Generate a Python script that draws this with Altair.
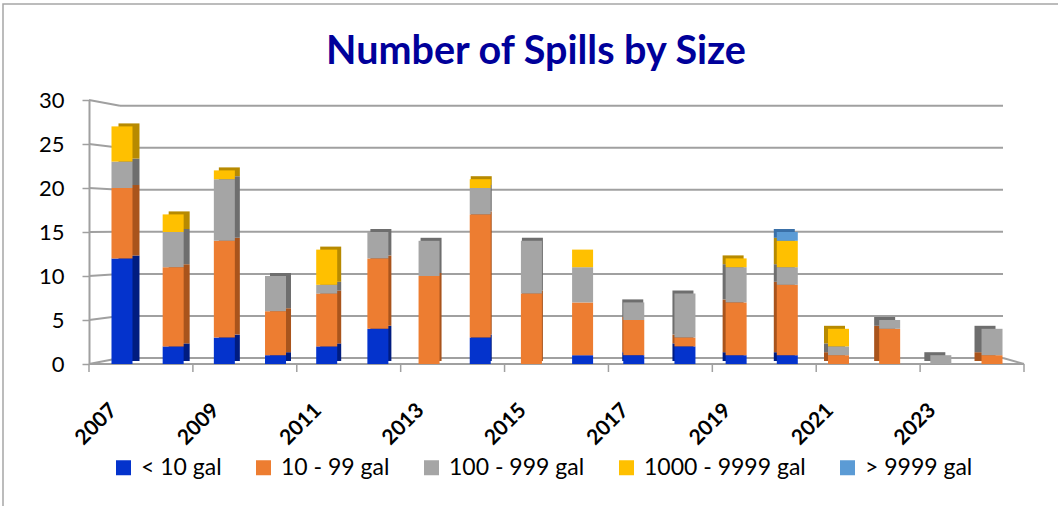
import altair as alt
import pandas as pd

# Spill counts per year, split by spill volume class
years = list(range(2007, 2025))
sizes = ["< 10 gal", "10 - 99 gal", "100 - 999 gal", "1000 - 9999 gal", "> 9999 gal"]
under_10 = [12, 2, 3, 1, 2, 4, 0, 3, 0, 1, 1, 2, 1, 1, 0, 0, 0, 0]
from_10_99 = [8, 9, 11, 5, 6, 8, 10, 14, 8, 6, 4, 1, 6, 8, 1, 4, 0, 1]
from_100_999 = [3, 4, 7, 4, 1, 3, 4, 3, 6, 4, 2, 5, 4, 2, 1, 1, 1, 3]
from_1000_9999 = [4, 2, 1, 0, 4, 0, 0, 1, 0, 2, 0, 0, 1, 3, 2, 0, 0, 0]
over_9999 = [0, 0, 0, 0, 0, 0, 0, 0, 0, 0, 0, 0, 0, 1, 0, 0, 0, 0]
y_ticks = [0, 5, 10, 15, 20, 25, 30]
title_text = "Number of Spills by Size"

front_colors = ["#0433CC", "#ED7D31", "#A5A5A5", "#FFC000", "#5B9BD5"]
side_colors = ["#001C80", "#A9541C", "#6E6E6E", "#B78A00", "#3A70A8"]

series = [under_10, from_10_99, from_100_999, from_1000_9999, over_9999]
rows = []
for rank, (name, vals) in enumerate(zip(sizes, series)):
    for yr, v in zip(years, vals):
        rows.append({"year": yr, "size": name, "count": v, "rank": rank})
long = pd.DataFrame(rows)

grid_df = pd.DataFrame({"v": y_ticks})
tick_df = pd.DataFrame({"pos": list(range(0, len(years) + 1, 2))})
one = pd.DataFrame({"label": [title_text]})

W, H = 935, 264
FONT = "Lato"
Y_SCALE = alt.Scale(domain=[0, 30], nice=False, zero=True)
BAR_X = alt.Scale(domain=years, range=[7.4, 928.6], paddingInner=0, paddingOuter=0)
BAR_W = 21
Y_AXIS = alt.Axis(
    values=y_ticks, grid=False, title=None, tickSize=7, tickColor="#A0A0A0",
    tickWidth=1.5, domainColor="#A0A0A0", domainWidth=2, labelPadding=18,
    labelFontSize=22, labelFont=FONT, labelColor="#000000",
)


def yq(field):
    return alt.Y(field, scale=Y_SCALE, axis=Y_AXIS)


# outer frame
frame = alt.Chart(one).mark_rect(fillOpacity=0, stroke="#A6A6A6", strokeWidth=1.5).encode(
    x=alt.value(-86), x2=alt.value(1000), y=alt.value(-96), y2=alt.value(520)
)

# chart title
title = alt.Chart(one).mark_text(
    font=FONT, fontSize=39.5, fontWeight="bold", color="#00009A", align="center",
    baseline="alphabetic",
).encode(text="label:N", x=alt.value(447), y=alt.value(-36))

# back wall gridlines (slightly compressed) and their left-edge diagonals
wall = "0.682 + 0.9557 * datum.v"
grid = alt.Chart(grid_df).transform_calculate(back=wall).mark_rule(
    color="#A0A0A0", strokeWidth=2
).encode(y=yq("back:Q"), x=alt.value(31), x2=alt.value(914))
diag = alt.Chart(grid_df).transform_calculate(back=wall).mark_rule(
    color="#A0A0A0", strokeWidth=2
).encode(y=yq("v:Q"), y2="back:Q", x=alt.value(0), x2=alt.value(31))
floor_right = alt.Chart(grid_df).transform_filter("datum.v == 0").transform_calculate(
    back=wall
).mark_rule(color="#A0A0A0", strokeWidth=2).encode(
    y=yq("back:Q"), y2="v:Q", x=alt.value(914), x2=alt.value(W)
)
floor_front = alt.Chart(grid_df).transform_filter("datum.v == 0").mark_rule(
    color="#A0A0A0", strokeWidth=2
).encode(y=yq("v:Q"), x=alt.value(0), x2=alt.value(W))
ticks = alt.Chart(tick_df).mark_rule(color="#A0A0A0", strokeWidth=1.5).encode(
    x=alt.X("pos:Q", scale=alt.Scale(domain=[0, len(years)], nice=False, zero=False), axis=None),
    y=alt.value(H), y2=alt.value(H + 8),
)

# side faces: offset copies in darker shades, the offset shrinking toward the middle
offsets = [round(7 - i * 0.8) for i in range(len(years))]
side_layers = []
for off in sorted(set(offsets)):
    if off == 0:
        continue
    group_years = [y for y, o in zip(years, offsets) if o == off]
    side_layers.append(
        alt.Chart(long)
        .transform_filter("datum.count > 0")
        .transform_filter(alt.FieldOneOfPredicate(field="year", oneOf=group_years))
        .mark_bar(width=BAR_W, xOffset=off, x2Offset=off, yOffset=-3, y2Offset=-3)
        .encode(
            x=alt.X("year:O", scale=BAR_X, axis=None),
            y=alt.Y("count:Q", stack="zero", scale=Y_SCALE, axis=Y_AXIS),
            color=alt.Color("size:N", scale=alt.Scale(domain=sizes, range=side_colors), legend=None),
            order=alt.Order("rank:Q"),
        )
    )

bars = (
    alt.Chart(long)
    .transform_filter("datum.count > 0")
    .mark_bar(width=BAR_W)
    .encode(
        x=alt.X(
            "year:O",
            scale=BAR_X,
            axis=alt.Axis(
                values=years[::2], labelAngle=-45, labelAlign="right", labelBaseline="top",
                labelPadding=35, labelOffset=-16, labelFontSize=21, labelFontWeight="bold",
                labelFont=FONT, labelColor="#000000", ticks=False, domain=False, title=None,
                grid=False,
            ),
        ),
        y=alt.Y("count:Q", stack="zero", scale=Y_SCALE, axis=Y_AXIS),
        color=alt.Color(
            "size:N",
            scale=alt.Scale(domain=sizes, range=front_colors),
            sort=sizes,
            legend=alt.Legend(
                orient="none", legendX=23, legendY=356, direction="horizontal", columns=5,
                title=None, symbolType="square", symbolSize=225, symbolStrokeWidth=0,
                symbolOpacity=1, labelFontSize=23, labelFont=FONT, labelColor="#000000",
                labelOffset=6, columnPadding=30, labelLimit=400,
            ),
        ),
        order=alt.Order("rank:Q"),
    )
)

chart = (
    alt.layer(frame, title, diag, grid, floor_right, floor_front, ticks, *side_layers, bars)
    .resolve_scale(x="independent", color="independent")
    .properties(
        width=W,
        height=H,
        autosize=alt.AutoSizeParams(type="none"),
        padding={"left": 89, "top": 100, "right": 34, "bottom": 142},
        background="#FFFFFF",
    )
    .configure_view(stroke=None)
)

chart.save("out.html", embed_options={"renderer": "svg", "actions": False})
